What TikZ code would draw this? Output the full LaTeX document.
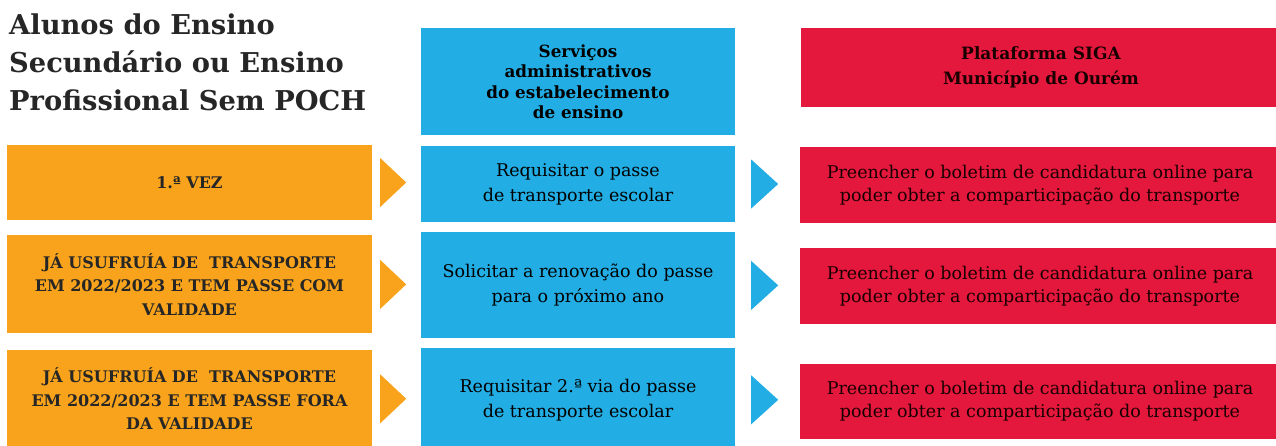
\documentclass[tikz,border=0pt]{standalone}
\usepackage{fontspec}
\setmainfont{DejaVu Serif}
\usetikzlibrary{positioning}
\definecolor{laranja}{HTML}{F8A31B}
\definecolor{azul}{HTML}{22AEE4}
\definecolor{vermelho}{HTML}{E4173C}

\begin{document}
\begin{tikzpicture}[x=1pt,y=-1pt,
        caixa/.style={inner sep=0pt, align=center},
        laranjabox/.style={caixa, fill=laranja, minimum width=365pt, text=black!85,
            font=\bfseries\fontsize{16}{23.5}\selectfont},
        azulbox/.style={caixa, fill=azul, minimum width=314pt, text=black,
            font=\fontsize{17.5}{25}\selectfont},
        vermelhobox/.style={caixa, fill=vermelho, minimum width=480pt, text=black!90!red,
            font=\fontsize{17.5}{23.5}\selectfont}]
        \clip (0,0) rectangle (1276,445);
        % titulo e cabecalhos
        \node[anchor=north west, align=left, inner sep=0pt, text=black!85,
            font=\bfseries\fontsize{27.3}{38}\selectfont] (titulo) at (9,14)
            {Alunos do Ensino\\Secundário ou Ensino\\Profissional Sem POCH};
        \node[azulbox, minimum height=107pt, font=\bfseries\fontsize{16.8}{20.5}\selectfont] at (578,81.5) (s0)
            {Serviços\\administrativos\\do estabelecimento\\de ensino};
        \node[vermelhobox, minimum height=79pt, font=\bfseries\fontsize{17}{25}\selectfont] at (1041,67.5) (p0)
            {Plataforma SIGA\\Município de Ourém};
        % coluna laranja
        \node[laranjabox, minimum height=75pt] at (189.5,182.5) (o1) {1.ª VEZ};
        \node[laranjabox, minimum height=98pt, below=15pt of o1] (o2)
            {JÁ USUFRUÍA DE \ TRANSPORTE\\EM 2022/2023 E TEM PASSE COM\\VALIDADE};
        \node[laranjabox, minimum height=98pt, below=16pt of o2] (o3)
            {JÁ USUFRUÍA DE \ TRANSPORTE\\EM 2022/2023 E TEM PASSE FORA\\DA VALIDADE};
        % coluna azul
        \node[azulbox, minimum height=76pt] at (578,184) (s1) {Requisitar o passe\\de transporte escolar};
        \node[azulbox, minimum height=106pt, below=10pt of s1] (s2)
            {Solicitar a renovação do passe\\para o próximo ano};
        \node[azulbox, minimum height=104pt, below=9pt of s2] (s3)
            {Requisitar 2.ª via do passe\\de transporte escolar};
        % coluna vermelha
        \node[vermelhobox, minimum height=76pt] at (1040,185) (p1)
            {Preencher o boletim de candidatura online para\\poder obter a comparticipação do transporte};
        \node[vermelhobox, minimum height=76pt, below=25pt of p1] (p2)
            {Preencher o boletim de candidatura online para\\poder obter a comparticipação do transporte};
        \node[vermelhobox, minimum height=75pt, below=39pt of p2] (p3)
            {Preencher o boletim de candidatura online para\\poder obter a comparticipação do transporte};
        % setas
        \fill[laranja] ([xshift=8pt,yshift=24.5pt]o1.east) -- ([xshift=34pt]o1.east) -- ([xshift=8pt,yshift=-24.5pt]o1.east) -- cycle;
        \fill[laranja] ([xshift=8pt,yshift=24.5pt]o2.east) -- ([xshift=34pt]o2.east) -- ([xshift=8pt,yshift=-24.5pt]o2.east) -- cycle;
        \fill[laranja] ([xshift=8pt,yshift=24.5pt]o3.east) -- ([xshift=34pt]o3.east) -- ([xshift=8pt,yshift=-24.5pt]o3.east) -- cycle;
        \fill[azul] ([xshift=16pt,yshift=24.5pt]s1.east) -- ([xshift=43pt]s1.east) -- ([xshift=16pt,yshift=-24.5pt]s1.east) -- cycle;
        \fill[azul] ([xshift=16pt,yshift=24.5pt]s2.east) -- ([xshift=43pt]s2.east) -- ([xshift=16pt,yshift=-24.5pt]s2.east) -- cycle;
        \fill[azul] ([xshift=16pt,yshift=24.5pt]s3.east) -- ([xshift=43pt]s3.east) -- ([xshift=16pt,yshift=-24.5pt]s3.east) -- cycle;
    \end{tikzpicture}
\end{document}
